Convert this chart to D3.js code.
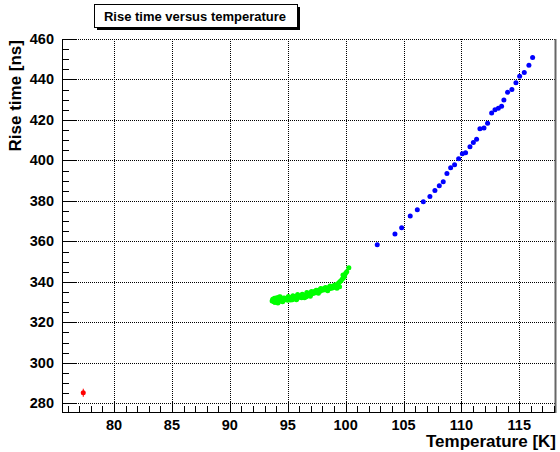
<!DOCTYPE html>
<html><head><meta charset="utf-8">
<script src="https://cdn.jsdelivr.net/npm/d3@7"></script>
<style>body{margin:0;background:#fff}svg{display:block}text{font-family:"Liberation Sans",Arial,Helvetica,sans-serif;font-weight:bold}</style>
</head><body>
<script>
const title = "Rise time versus temperature";
const xTitle = "Temperature [K]";
const yTitle = "Rise time [ns]";
const xTicks = [80,85,90,95,100,105,110,115];
const yTicks = [280,300,320,340,360,380,400,420,440,460];

// red series (with error)
const redT = [77.34];
const redR = [285.2];
const redErr = [2.0];

// green series
const greenT = [93.65,93.7,93.8,93.9,94.0,94.05,94.1,94.2,94.3,94.35,94.4,94.5,94.6,94.7,94.8,94.9,95.0,95.1,95.2,95.3,95.4,95.5,95.6,95.7,95.8,95.9,96.0,96.1,96.2,96.3,96.4,96.5,96.6,96.7,96.8,96.9,97.0,97.1,97.2,97.3,97.4,97.5,97.6,97.7,97.8,97.9,98.0,98.1,98.2,98.3,98.4,98.5,98.6,98.7,98.8,98.9,99.0,99.1,99.2,99.3,99.4,99.48,99.5,99.6,99.7,99.77,99.8,99.9,100.0,100.1,100.28,
  93.85,94.25,94.65,95.05,95.45,95.85,96.25,96.65,97.05,97.45,97.85,98.25,98.65,99.05,94.15,94.55,95.25,95.75,96.45,96.95,97.65,98.45,99.25];
const greenR = [330.6,331.4,330.2,329.8,331.4,332.2,330.6,330.1,331.8,332.6,330.9,331.2,330.5,332.0,331.3,331.7,330.9,332.4,331.6,332.1,331.2,332.8,332.0,332.5,331.7,333.1,332.4,333.0,332.2,333.6,332.8,333.4,332.6,334.0,333.3,334.5,333.8,334.9,334.2,335.3,334.6,335.7,335.0,336.0,335.4,336.3,335.8,336.6,336.1,336.9,336.4,337.1,336.6,337.4,336.9,337.8,337.2,338.3,337.7,338.9,339.4,337.6,340.0,340.6,341.3,343.4,341.9,342.6,344.2,345.0,347.0,
  331.9,332.5,331.9,332.8,333.1,333.7,333.9,334.7,335.2,335.9,336.7,337.2,337.9,338.4,329.6,330.2,331.0,331.2,332.1,332.9,334.4,335.6,336.8];

// blue series
const blueT = [102.73,104.26,104.84,105.58,106.19,106.71,107.28,107.71,108.09,108.43,108.75,109.07,109.41,109.76,110.08,110.36,110.74,111.03,111.31,111.60,111.95,112.26,112.61,112.90,113.19,113.47,113.67,113.99,114.36,114.71,115.03,115.43,115.83,116.15];
const blueR = [358.4,363.6,366.8,372.5,375.6,379.6,382.2,385.2,387.5,389.5,393.6,396.4,397.9,400.8,403.3,403.8,406.8,408.9,410.5,415.6,416.0,418.4,423.4,425.0,425.8,426.8,429.8,433.7,435.1,438.4,441.6,443.4,447.0,450.8];

const W = 560, H = 452;
const svg = d3.select("body").append("svg").attr("width", W).attr("height", H);

const x = d3.scaleLinear().domain([75.47, 118.04]).range([61.6, 554.5]);
const y = d3.scaleLinear().domain([275.7, 460]).range([412, 39]);
const x0 = x.range()[0], x1 = x.range()[1], yb = y.range()[0], yt = y.range()[1];

// grid
const grid = svg.append("g").attr("stroke", "#000").attr("stroke-width", 1).attr("stroke-dasharray", "1,1").attr("shape-rendering", "crispEdges");
grid.selectAll("line.gx").data(xTicks).join("line").attr("x1", d => Math.round(x(d)) + 0.5).attr("x2", d => Math.round(x(d)) + 0.5).attr("y1", yt).attr("y2", yb);
grid.selectAll("line.gy").data(yTicks).join("line").attr("y1", d => Math.round(y(d)) + 0.5).attr("y2", d => Math.round(y(d)) + 0.5).attr("x1", x0).attr("x2", x1);

// right gray border
svg.append("line").attr("x1", 555.5).attr("x2", 555.5).attr("y1", yt).attr("y2", yb + 1).attr("stroke", "#666").attr("stroke-width", 2);

// axes
const ax = svg.append("g").attr("shape-rendering", "crispEdges");
ax.append("line").attr("x1", x0).attr("x2", x1).attr("y1", yb + 0.5).attr("y2", yb + 0.5).attr("stroke", "#000");
ax.append("line").attr("x1", Math.round(x0) + 0.5).attr("x2", Math.round(x0) + 0.5).attr("y1", yt).attr("y2", yb + 1).attr("stroke", "#000");
const xMinor = d3.range(76, 119, 1);
ax.selectAll("line.xm").data(xMinor).join("line")
  .attr("x1", d => Math.round(x(d)) + 0.5).attr("x2", d => Math.round(x(d)) + 0.5)
  .attr("y1", yb).attr("y2", d => yb - (d % 5 === 0 ? 11.2 : 5.6)).attr("stroke", "#000");
const yMinor = d3.range(280, 461, 5);
ax.selectAll("line.ym").data(yMinor).join("line")
  .attr("y1", d => Math.round(y(d)) + 0.5).attr("y2", d => Math.round(y(d)) + 0.5)
  .attr("x1", x0).attr("x2", d => x0 + (d % 20 === 0 ? 14.8 : 7.4)).attr("stroke", "#000");

// tick labels
svg.selectAll("text.xl").data(xTicks).join("text").attr("x", d => x(d)).attr("y", 429.5)
  .attr("text-anchor", "middle").attr("font-size", 14.5).text(d => d);
svg.selectAll("text.yl").data(yTicks).join("text").attr("x", 54).attr("y", d => y(d) + 5)
  .attr("text-anchor", "end").attr("font-size", 14.5).text(d => d);

// axis titles
svg.append("text").attr("x", 556).attr("y", 447).attr("text-anchor", "end").attr("font-size", 17).text(xTitle);
svg.append("text").attr("transform", "translate(21,40) rotate(-90)").attr("text-anchor", "end").attr("font-size", 17).text(yTitle);

// data
const pts = svg.append("g");
pts.selectAll("circle.g").data(greenT.map((t, i) => [t, greenR[i]])).join("circle")
  .attr("cx", d => x(d[0])).attr("cy", d => y(d[1])).attr("r", 2.5).attr("fill", "#00ff00");
pts.selectAll("circle.b").data(blueT.map((t, i) => [t, blueR[i]])).join("circle")
  .attr("cx", d => x(d[0])).attr("cy", d => y(d[1])).attr("r", 2.5).attr("fill", "#0000ff");
const red = redT.map((t, i) => [t, redR[i], redErr[i]]);
pts.selectAll("line.re").data(red).join("line")
  .attr("x1", d => x(d[0])).attr("x2", d => x(d[0])).attr("y1", d => y(d[1] - d[2])).attr("y2", d => y(d[1] + d[2]))
  .attr("stroke", "#ff0000").attr("stroke-width", 1);
pts.selectAll("circle.r").data(red).join("circle")
  .attr("cx", d => x(d[0])).attr("cy", d => y(d[1])).attr("r", 2.5).attr("fill", "#ff0000");

// title box
const tb = svg.append("g");
tb.append("rect").attr("x", 97).attr("y", 7).attr("width", 203).attr("height", 23).attr("fill", "#000");
tb.append("rect").attr("x", 94.5).attr("y", 4.5).attr("width", 203).attr("height", 23).attr("fill", "#fff").attr("stroke", "#000");
tb.append("text").attr("x", 195).attr("y", 20.5).attr("text-anchor", "middle").attr("font-size", 13).text(title);
</script>
</body></html>
